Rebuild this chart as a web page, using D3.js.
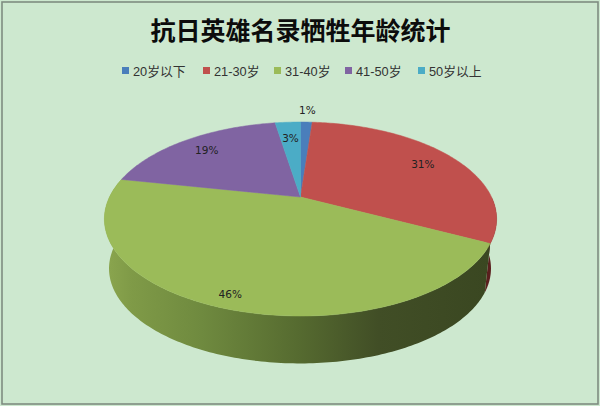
<!DOCTYPE html>
<html lang="zh">
<head>
<meta charset="utf-8" />
<style>
    html, body { margin: 0; padding: 0; background: #cde8cf; overflow: hidden; }
    text { font-family: "Liberation Sans", "Noto Sans CJK SC", sans-serif; fill: #222; }
    .title { font-family: "Noto Sans CJK SC", sans-serif; font-size: 25px; font-weight: 700; fill: #0c0c0c; }
    .legend { font-size: 12.8px; fill: #333; }
    .label { font-family: "DejaVu Sans", sans-serif; font-size: 10.5px; }
</style>
</head>
<body>
<svg width="600" height="406"></svg>
<script src="https://cdn.jsdelivr.net/npm/d3@7"></script>
<script>

    var titleText = "抗日英雄名录牺牲年龄统计";
    var categories = ["20岁以下", "21-30岁", "31-40岁", "41-50岁", "50岁以上"];
    var shares = [1.2, 31.3, 45.7, 19.2, 2.6];
    var colors = ["#4a7ebb", "#c0504d", "#9bbb59", "#8064a2", "#4bacc6"];

    // where each percent label sits along its slice radius
    var labelRadius = [1.2, 0.8, 0.9, 0.8, 0.75];
    var legendX = [122, 203, 274, 345, 418];

    var svg = d3.select("svg");

    svg.append("rect")
        .attr("x", 2).attr("y", 2).attr("width", 596).attr("height", 402)
        .attr("fill", "#cde8cf")
        .attr("stroke", "#7f8c80").attr("stroke-width", 1.6);

    // the disc seen in perspective: near edge is larger than far edge
    var k = 0.227;

    function project(plane, angle, r) {
        var u = r * Math.sin(angle),
            v = -r * Math.cos(angle),
            s = 1 / (1 - k * v);
        return [plane.cx + plane.rx * u * s, plane.cy + plane.ry * v * s];
    }

    var topFace = { cx: 300.5, cy: 197, rx: 191, ry: 92 },
        bottomFace = { cx: 300, cy: 247, rx: 186, ry: 90 };

    var slices = d3.pie().sort(null).value(function(d) { return d; })(shares);
    var line = d3.line();

    function rim(plane, a0, a1) {
        var n = Math.max(2, Math.ceil(Math.abs(a1 - a0) * 60));
        return d3.range(n + 1).map(function(i) {
            return project(plane, a0 + (a1 - a0) * i / n, 1);
        });
    }

    var defs = svg.append("defs");

    var wallGreen = defs.append("linearGradient")
        .attr("id", "wallGreen")
        .attr("gradientUnits", "userSpaceOnUse")
        .attr("x1", 105).attr("y1", 0).attr("x2", 490).attr("y2", 0);
    [[0, "#8ba64f"], [0.07, "#7f9a47"], [0.25, "#6f8a3f"], [0.5, "#566b30"], [0.71, "#414e26"], [1, "#3a4721"]]
        .forEach(function(s) {
            wallGreen.append("stop").attr("offset", s[0]).attr("stop-color", s[1]);
        });

    // side wall, only the red and green slices face the viewer
    svg.append("path")
        .attr("d", line(rim(topFace, Math.PI / 2, slices[1].endAngle)
            .concat(rim(bottomFace, slices[1].endAngle, Math.PI / 2))) + "Z")
        .attr("fill", "#5a1f1e");

    svg.append("path")
        .attr("d", line(rim(topFace, slices[2].startAngle, slices[2].endAngle)
            .concat(rim(bottomFace, slices[2].endAngle, slices[2].startAngle))) + "Z")
        .attr("fill", "url(#wallGreen)");

    // top face
    svg.selectAll(".slice")
        .data(slices)
        .enter()
        .append("path")
        .attr("class", "slice")
        .attr("d", function(d) {
            return line([project(topFace, 0, 0)].concat(rim(topFace, d.startAngle, d.endAngle))) + "Z";
        })
        .attr("fill", function(d, i) { return colors[i]; })
        .attr("stroke", function(d, i) { return colors[i]; })
        .attr("stroke-width", 0.5);

    svg.selectAll(".label")
        .data(slices)
        .enter()
        .append("text")
        .attr("class", "label")
        .attr("text-anchor", "middle")
        .attr("dy", "0.36em")
        .attr("transform", function(d, i) {
            return "translate(" + project(topFace, (d.startAngle + d.endAngle) / 2, labelRadius[i]) + ")";
        })
        .text(function(d) { return d3.format(".0f")(d.data) + "%"; });

    svg.append("text")
        .attr("class", "title")
        .attr("x", 300.5).attr("y", 40)
        .attr("text-anchor", "middle")
        .text(titleText);

    var legend = svg.selectAll(".legend")
        .data(categories)
        .enter()
        .append("g")
        .attr("transform", function(d, i) { return "translate(" + legendX[i] + ",71)"; });

    legend.append("rect")
        .attr("x", 0).attr("y", -4).attr("width", 7).attr("height", 7)
        .attr("fill", function(d, i) { return colors[i]; });

    legend.append("text")
        .attr("class", "legend")
        .attr("x", 11).attr("dy", "0.36em")
        .text(function(d) { return d; });

</script>
</body>
</html>
